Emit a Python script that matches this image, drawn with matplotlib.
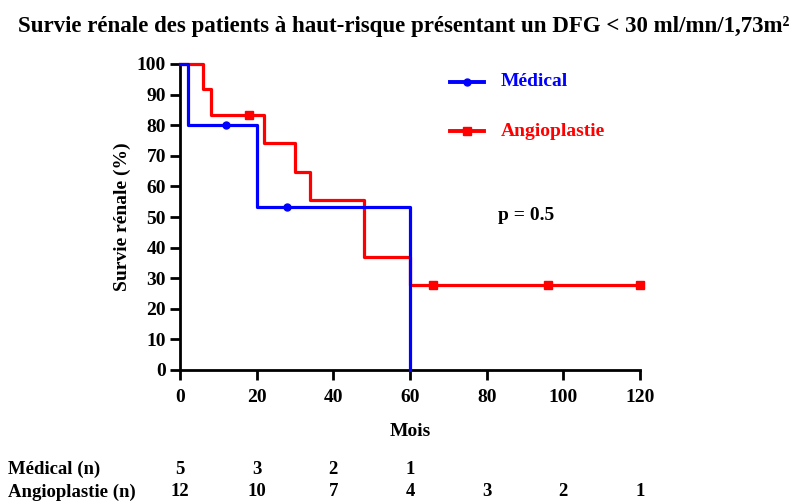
import matplotlib
matplotlib.use('Agg')
import matplotlib.pyplot as plt

plt.rcParams['font.family'] = ['Liberation Serif', 'DejaVu Serif']
plt.rcParams['font.weight'] = 'bold'

# courbes de survie (mois, %)
med_t = [0, 2, 20, 60]
med_s = [100, 80, 53.3, 0]
med_cens_t = [12, 28]
med_cens_s = [80, 53.3]

ang_t = [0, 6, 8, 22, 30, 34, 48, 60, 120]
ang_s = [100, 91.7, 83.3, 74.1, 64.8, 55.6, 37.0, 27.8, 27.8]
ang_cens_t = [18, 66, 96, 120]
ang_cens_s = [83.3, 27.8, 27.8, 27.8]

# patients à risque
risk_t = [0, 20, 40, 60, 80, 100, 120]
med_n = [5, 3, 2, 1]
ang_n = [12, 10, 7, 4, 3, 2, 1]

fig = plt.figure(figsize=(8.08, 5.03), dpi=100)
ax = fig.add_axes([180/808, 1-370/503, 460/808, 306/503])

blue = '#0000ff'
red = '#ff0000'
fs = 14
ax.step(ang_t, ang_s, where='post', color=red, lw=2.3, clip_on=False, zorder=3)
ax.plot(ang_cens_t, ang_cens_s, 's', color=red, ms=5.5, clip_on=False, zorder=4)
ax.step(med_t, med_s, where='post', color=blue, lw=2.3, clip_on=False, zorder=3)
ax.plot(med_cens_t, med_cens_s, 'o', color=blue, ms=5, clip_on=False, zorder=4)

ax.set_xlim(0, 120)
ax.set_ylim(0, 100)
ax.set_xticks(range(0, 121, 20))
ax.set_yticks(range(0, 101, 10))
ax.spines['top'].set_visible(False)
ax.spines['right'].set_visible(False)
ax.spines['left'].set_linewidth(2)
ax.spines['bottom'].set_linewidth(2)
ax.tick_params(width=2, length=7, labelsize=fs)
ax.tick_params(axis='x', pad=7)
ax.tick_params(axis='y', pad=3)
for lab in ax.get_xticklabels() + ax.get_yticklabels():
    lab.set_fontweight('bold')

ax.set_xlabel('Mois', fontsize=fs, fontweight='bold', labelpad=12)
ax.set_ylabel('Survie rénale (%)', fontsize=fs, fontweight='bold', labelpad=4)
fig.suptitle('Survie rénale des patients à haut-risque présentant un DFG < 30 ml/mn/1,73m²',
             fontsize=16.5, fontweight='bold', x=0.5, y=0.968)

# légende
fig.lines.append(plt.Line2D([450/808, 484/808], [1-82/503, 1-82/503], color=blue, lw=2.8,
                            transform=fig.transFigure))
fig.lines.append(plt.Line2D([467/808], [1-82/503], color=blue, marker='o', ms=5,
                            transform=fig.transFigure))
fig.lines.append(plt.Line2D([450/808, 484/808], [1-131/503, 1-131/503], color=red, lw=2.8,
                            transform=fig.transFigure))
fig.lines.append(plt.Line2D([467/808], [1-131/503], color=red, marker='s', ms=5.5,
                            transform=fig.transFigure))
fig.text(501/808, 1-82/503, 'Médical', color=blue, fontsize=fs, fontweight='bold', va='center')
fig.text(501/808, 1-131/503, 'Angioplastie', color=red, fontsize=fs, fontweight='bold', va='center')

ax.text(83, 50.5, 'p = 0.5', fontsize=fs, fontweight='bold', va='center')

# tableau des effectifs
trans = ax.get_xaxis_transform()
y1 = (370-469)/306
y2 = (370-492)/306
fig.text(8/808, 1-469/503, 'Médical (n)', fontsize=13.5, fontweight='bold', va='center')
fig.text(8/808, 1-492/503, 'Angioplastie (n)', fontsize=13.5, fontweight='bold', va='center')
for t, n in zip(risk_t, med_n):
    ax.text(t, y1, str(n), transform=trans, ha='center', va='center', fontsize=13.5, fontweight='bold')
for t, n in zip(risk_t, ang_n):
    ax.text(t, y2, str(n), transform=trans, ha='center', va='center', fontsize=13.5, fontweight='bold')

fig.savefig('out.png', dpi=100)
